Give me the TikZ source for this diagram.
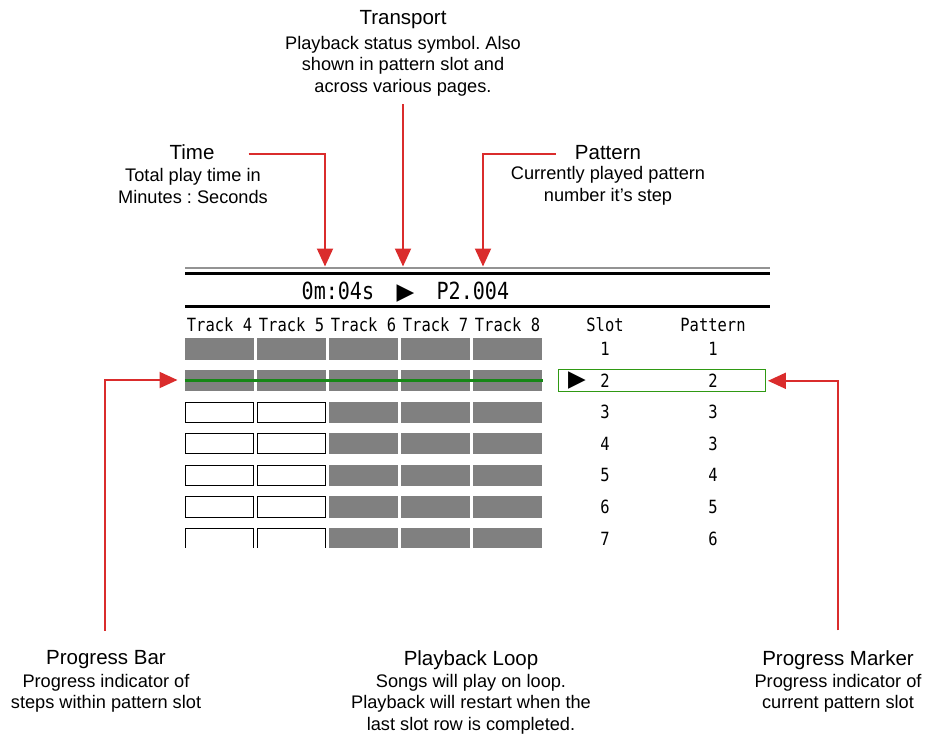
\documentclass[tikz,border=0pt]{standalone}
\usepackage{fontspec}
\setmainfont{Liberation Sans}
\newfontfamily\lcdfont[FakeStretch=0.85]{DejaVu Sans Mono}
\newfontfamily\symfont{DejaVu Sans}
\usetikzlibrary{arrows.meta}
\definecolor{callred}{RGB}{218,44,44}
\definecolor{stepgray}{RGB}{128,128,128}
\definecolor{markgreen}{RGB}{22,135,22}
\tikzset{
  title/.style={font=\fontsize{20.5}{24}\selectfont, inner sep=0pt},
  desc/.style={font=\fontsize{18.2}{21.5}\selectfont, align=center, inner sep=0pt},
  callout/.style={draw=callred, line width=2pt, -{Triangle[width=16pt,length=18pt]}},
  lcd/.style={font=\lcdfont\fontsize{18.2}{20}\selectfont, inner sep=0pt},
  lcdbig/.style={font=\lcdfont\fontsize{23.6}{26}\selectfont, inner sep=0pt},
  stepon/.style={fill=stepgray},
  stepoff/.style={draw=black, line width=1pt, fill=white},
}
\frenchspacing
\begin{document}
\begin{tikzpicture}[x=1pt, y=-1pt]
\useasboundingbox (0,0) rectangle (925,736);

% screen
\draw[gray!85, line width=2pt] (185,267.5) -- (770,267.5);
\draw[line width=3pt] (185,273.5) -- (770,273.5);
\draw[line width=2.3pt] (185,306.5) -- (770,306.5);
\node[lcdbig, anchor=base] (status) at (405.4,299.5) {0m:04s~~\makebox[0.602em]{\symfont\fontsize{23}{23}\selectfont ▶}~~P2.004};

\foreach \c [count=\i from 4] in {0,...,4}
  \node[lcd, anchor=base] (track\i) at (219.5+72*\c,331) {Track \i};
\node[lcd, anchor=base] (slotHead) at (605,331) {Slot};
\node[lcd, anchor=base] (patHead) at (713,331) {Pattern};

\begin{scope}
  \clip (180,330) rectangle (550,547.5);
  \foreach \r in {0,1}
    \foreach \c in {0,...,4}
      \fill[stepon] (185+72*\c,338.3+31.6*\r) rectangle +(69,21.3);
  \foreach \r in {2,...,6} {
    \foreach \c in {2,3,4}
      \fill[stepon] (185+72*\c,338.3+31.6*\r) rectangle +(69,21.3);
    \foreach \c in {0,1}
      \draw[stepoff] (185.5+72*\c,338.8+31.6*\r) rectangle +(68,20.3);
  }
\end{scope}
\draw[markgreen, line width=3pt] (184.5,380) coordinate (barStart) -- (543,380);

\foreach \s/\p [count=\r from 0] in {1/1,2/2,3/3,4/3,5/4,6/5,7/6} {
  \node[lcd, anchor=base] (slot\s) at (605,355.5+31.6*\r) {\s};
  \node[lcd, anchor=base] (pat\s) at (713,355.5+31.6*\r) {\p};
}
\node[draw=markgreen!85!lime, line width=1pt, minimum width=206.5pt, minimum height=22pt, inner sep=0pt] (marker) at (662.2,380.8) {};
\node[inner sep=0pt] (playing) at (577,381) {\symfont\fontsize{23}{23}\selectfont ▶};

% callouts
\node[title] (tTransport) at (403,20) {Transport};
\node[desc] (dTransport) at (403,66) {Playback status symbol. Also\\shown in pattern slot and\\across various pages.};
\node[title] (tTime) at (192,152.5) {Time};
\node[desc] (dTime) at (193,186) {Total play time in\\Minutes : Seconds};
\node[title] (tPattern) at (608,152.5) {Pattern};
\node[desc] (dPattern) at (608,186) {Currently played pattern\\number it’s step};
\node[title] (tBar) at (106,660) {Progress Bar};
\node[desc] (dBar) at (106,693.5) {Progress indicator of\\steps within pattern slot};
\node[title] (tLoop) at (471,660) {Playback Loop};
\node[desc] (dLoop) at (471,704) {Songs will play on loop.\\Playback will restart when the\\last slot row is completed.};
\node[title] (tMarker) at (838,660) {Progress Marker};
\node[desc] (dMarker) at (838,693.5) {Progress indicator of\\current pattern slot};

\coordinate (timeTip) at (325,266.5);
\coordinate (transportTip) at (403,266.5);
\coordinate (patternTip) at (483,266.5);
\draw[callout] ([xshift=34pt,yshift=-1.5pt]tTime.east) -| (timeTip);
\draw[callout] ([yshift=-8pt]dTransport.south) -- (transportTip);
\draw[callout] ([xshift=-19pt,yshift=-1pt]tPattern.west) -| (patternTip);
\draw[callout] ([xshift=-1pt,yshift=20pt]tBar.north) |- ([xshift=-7pt]barStart);
\draw[callout] ([yshift=20pt]tMarker.north) |- ([xshift=2pt]marker.east);
\end{tikzpicture}
\end{document}
